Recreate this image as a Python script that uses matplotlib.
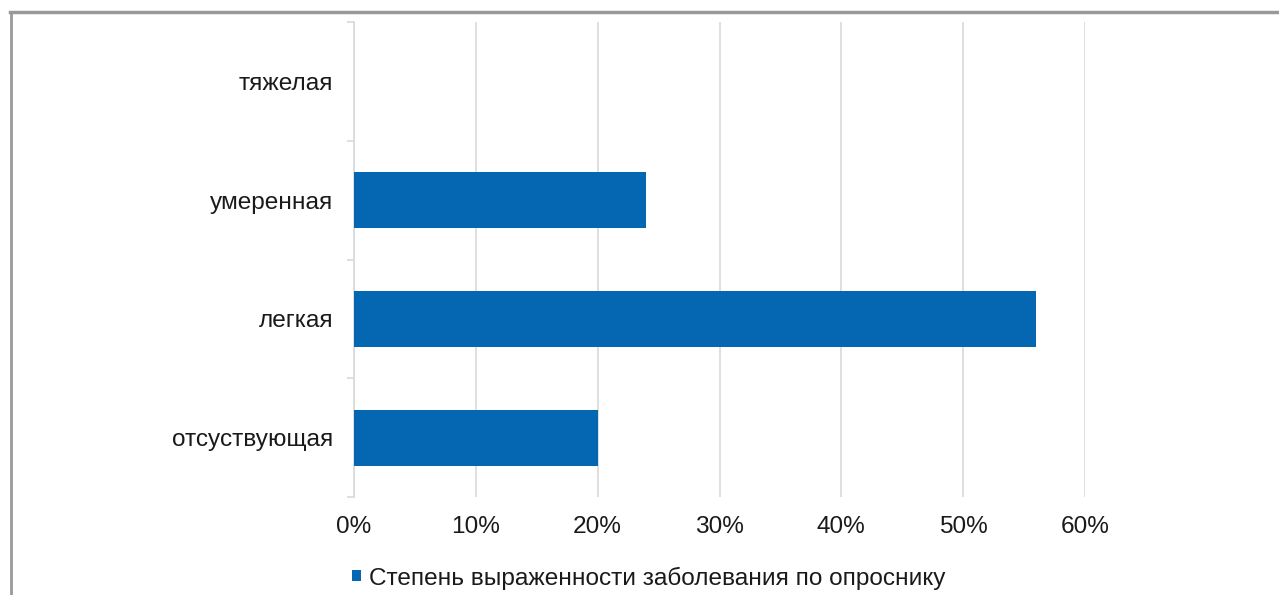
import matplotlib.pyplot as plt
import numpy as np
from matplotlib.lines import Line2D
from matplotlib.ticker import FuncFormatter

plt.rcParams['font.family'] = ['Liberation Sans', 'DejaVu Sans']

# данные
categories = ['отсуствующая', 'легкая', 'умеренная', 'тяжелая']
values = [0.20, 0.56, 0.24, 0.0]
x_ticks = [0.0, 0.1, 0.2, 0.3, 0.4, 0.5, 0.6]
series_name = 'Степень выраженности заболевания по опроснику'

bar_color = '#0566B2'
grid_color = '#D9D9D9'
fs = 17.6

W, H = 1279, 595
fig = plt.figure(figsize=(W / 100, H / 100), dpi=100)
ax = fig.add_axes([354 / W, 1 - 497 / H, (1085 - 354) / W, (497 - 22) / H])

y = np.arange(len(categories))
ax.barh(y, values, height=0.47, color=bar_color, label=series_name, zorder=3)

ax.set_xlim(0, 0.6)
ax.set_ylim(-0.5, len(categories) - 0.5)
ax.set_xticks(x_ticks)
ax.xaxis.set_major_formatter(FuncFormatter(lambda v, p: f'{v * 100:.0f}%'))
ax.tick_params(axis='x', length=0, pad=14, labelsize=fs, labelcolor='#1a1a1a')
ax.grid(axis='x', color=grid_color, linewidth=1.2, zorder=0)

ax.set_yticks(y)
ax.set_yticklabels(categories)
ax.tick_params(axis='y', which='major', length=0, pad=15, labelsize=fs,
               labelcolor='#1a1a1a')
ax.set_yticks(np.arange(len(categories) + 1) - 0.5, minor=True)
ax.tick_params(axis='y', which='minor', length=5, width=1.2, color=grid_color)

for side in ['top', 'right', 'bottom']:
    ax.spines[side].set_visible(False)
ax.spines['left'].set_color(grid_color)
ax.spines['left'].set_linewidth(1.2)

fig.legend(loc='center', bbox_to_anchor=(649 / W, 1 - 578 / H), frameon=False,
           fontsize=fs, handlelength=0.33, handleheight=0.33, handletextpad=0.35,
           labelcolor='#1a1a1a')

# рамка
fig.add_artist(Line2D([10 / W, 1], [1 - 12 / H, 1 - 12 / H], color='#999999',
                      linewidth=2.5, transform=fig.transFigure))
fig.add_artist(Line2D([11 / W, 11 / W], [0, 1 - 12 / H], color='#999999',
                      linewidth=2.0, transform=fig.transFigure))

fig.savefig('out.png', dpi=100)
